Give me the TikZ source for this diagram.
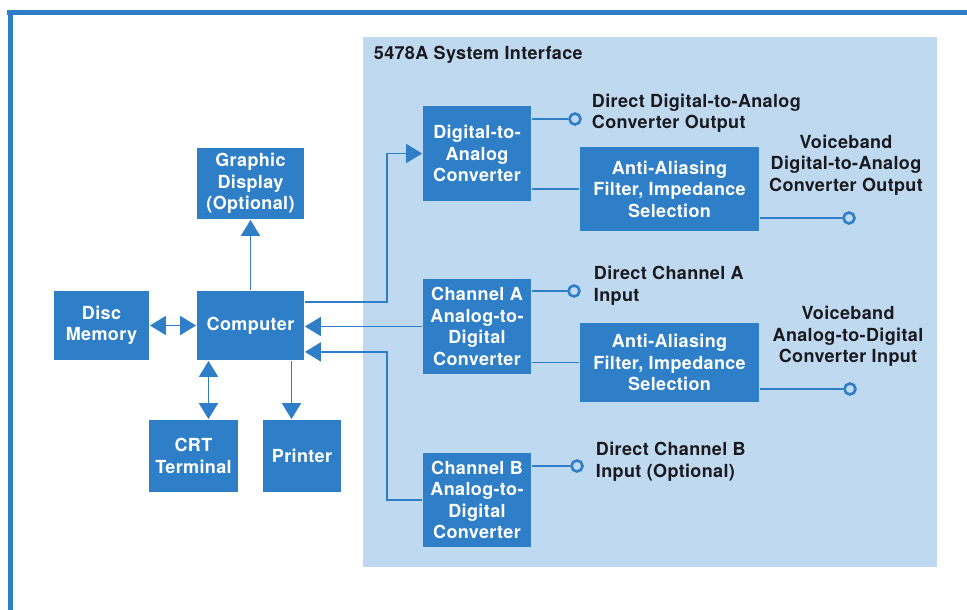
\documentclass[tikz,border=0pt]{standalone}
\usepackage{fontspec}
\setmainfont{TeX Gyre Heros}[LetterSpace=2]
\usetikzlibrary{arrows.meta}

\definecolor{boxblue}{RGB}{46,126,200}
\definecolor{panelblue}{RGB}{191,217,240}
\definecolor{inkblack}{RGB}{25,25,30}

\begin{document}
\begin{tikzpicture}[x=1pt,y=-1pt,>={Triangle[length=16pt,width=19pt]},
    line width=1.8pt,draw=boxblue,
    font=\fontsize{18}{21.5}\selectfont\bfseries,
    blk/.style={fill=boxblue,text=white,align=center,inner sep=0pt},
    term/.style={circle,draw=boxblue,line width=2.6pt,fill=panelblue,
      inner sep=0pt,minimum size=11pt},
    lbl/.style={text=inkblack,inner sep=0pt}]
  \useasboundingbox (0,0) rectangle (967,610);
  % frame and interface panel
  \draw[boxblue,line width=5pt] (7,12.5) -- (967,12.5);
  \draw[boxblue,line width=5pt] (10,10) -- (10,610);
  \fill[panelblue] (363,37) rectangle (937,567);
  \node[lbl, anchor=west] (title) at (373,55) {5478A System Interface};
  % host side
  \node[blk, minimum width=107, minimum height=71] (gd) at (250.5,183.5) {Graphic\\Display\\(Optional)};
  \node[blk, minimum width=95, minimum height=69] (disc) at (101.5,325.5) {Disc\\Memory};
  \node[blk, minimum width=107, minimum height=69] (comp) at (250.5,325.5) {Computer};
  \node[blk, minimum width=89, minimum height=72] (crt) at (193.5,456) {CRT\\Terminal};
  \node[blk, minimum width=78, minimum height=72] (prn) at (302,456) {Printer};
  % interface side
  \node[blk, minimum width=108, minimum height=95] (dac) at (477,153.5) {Digital-to-\\Analog\\Converter};
  \node[blk, minimum width=179, minimum height=84] (aaf1) at (669.5,189) {Anti-Aliasing\\Filter, Impedance\\Selection};
  \node[blk, minimum width=108, minimum height=95] (cha) at (477,326.5) {Channel A\\Analog-to-\\Digital\\Converter};
  \node[blk, minimum width=179, minimum height=79] (aaf2) at (669.5,362.5) {Anti-Aliasing\\Filter, Impedance\\Selection};
  \node[blk, minimum width=108, minimum height=94] (chb) at (477,500) {Channel B\\Analog-to-\\Digital\\Converter};
  % terminals
  \node[term] (o1) at (575,119) {};
  \node[term] (o2) at (849,218) {};
  \node[term] (o3) at (574,291) {};
  \node[term] (o4) at (850,389) {};
  \node[term] (o5) at (577,466) {};
  \node[lbl, anchor=west, align=left] (l1) at (591,113.5) {Direct Digital-to-Analog\\Converter Output};
  \node[lbl, align=center] (l2) at (846,165) {Voiceband\\Digital-to-Analog\\Converter Output};
  \node[lbl, anchor=west, align=left] (l3) at (593,286) {Direct Channel A\\Input};
  \node[lbl, align=center] (l4) at (848,336.5) {Voiceband\\Analog-to-Digital\\Converter Input};
  \node[lbl, anchor=west, align=left] (l5) at (595,462) {Direct Channel B\\Input (Optional)};
  % bus points
  \coordinate (bus) at (387,0);
  \coordinate (cout) at ([yshift=-12pt]comp.north east);
  \coordinate (cin) at ([yshift=9pt]comp.south east);
  % connectors
  \draw[->] (comp.north) -- (gd.south);
  \draw[<->] (disc.east) -- (comp.west);
  \draw[<->] ([xshift=-42pt]comp.south) -- ([xshift=-42pt]comp.south |- crt.north);
  \draw[->] ([xshift=41pt]comp.south) -- ([xshift=41pt]comp.south |- prn.north);
  \draw[->] (cout) -| (bus |- dac.west) -- (dac.west);
  \draw[->] (cha.west) -- (cha.west -| comp.east);
  \draw[->] (chb.west) -| (bus |- cin) -- (cin);
  \draw (o1 -| dac.east) -- (o1);
  \draw (aaf1.west -| dac.east) -- (aaf1.west);
  \draw (o2 -| aaf1.east) -- (o2);
  \draw (o3 -| cha.east) -- (o3);
  \draw (aaf2.west -| cha.east) -- (aaf2.west);
  \draw (o4 -| aaf2.east) -- (o4);
  \draw (o5 -| chb.east) -- (o5);
\end{tikzpicture}
\end{document}
